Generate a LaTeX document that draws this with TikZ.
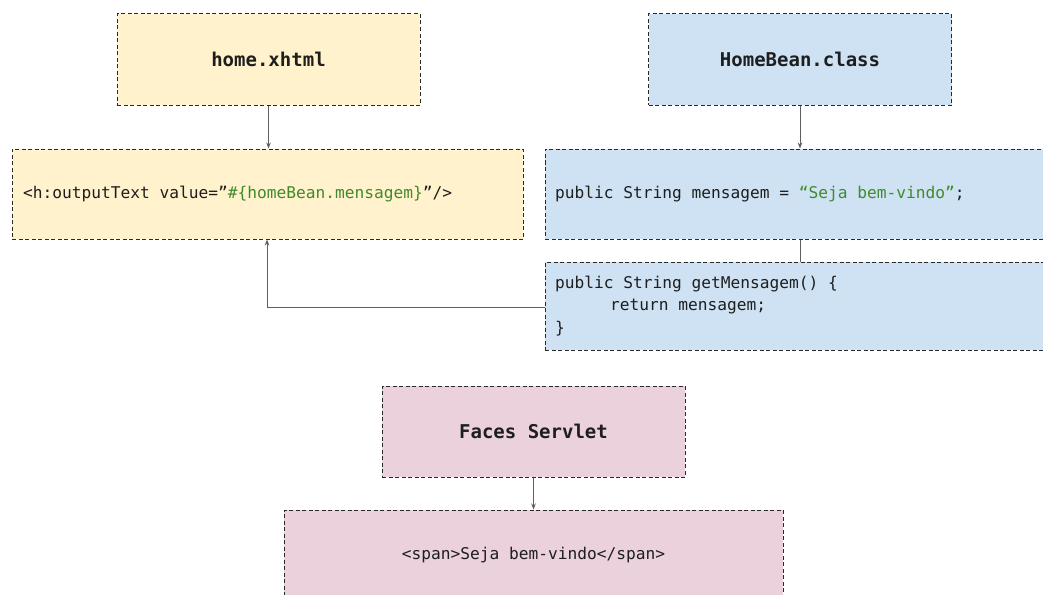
\documentclass[tikz,border=0pt]{standalone}
\usepackage{fontspec}
\newfontfamily\codefont{DejaVu Sans Mono}
\newcommand\monosp{\spaceskip=0.602em\relax\xspaceskip=0.602em\relax}
\usetikzlibrary{arrows.meta}
\definecolor{yel}{HTML}{FFF2CC}
\definecolor{blu}{HTML}{CFE2F3}
\definecolor{pnk}{HTML}{EAD1DC}
\definecolor{grn}{HTML}{3F8A2C}
\definecolor{txt}{HTML}{1E1E1E}
\definecolor{edge}{HTML}{2A2A2A}
\definecolor{conn}{HTML}{5F5F5F}
\begin{document}
\begin{tikzpicture}[x=1pt,y=-1pt,
  box/.style={draw=edge, line width=1pt, dash pattern=on 4pt off 2.5pt, rectangle, inner ysep=0pt, text=txt},
  title/.style={box, minimum width=303pt, minimum height=91pt, font=\codefont\bfseries\fontsize{19}{22}\selectfont\monosp},
  codebox/.style={box, align=left, font=\codefont\fontsize{16.2}{22.5}\selectfont\monosp},
  conn/.style={draw=conn, line width=0.9pt},
  arr/.style={conn, -{Stealth[length=6pt,width=4.5pt]}}]
\useasboundingbox (0,0) rectangle (1043,594);
\fill[white] (0,0) rectangle (1043,594);

\node[title, fill=yel] (home) at (268.5,59.5) {home.xhtml};
\node[title, fill=blu] (bean) at (800,59.5) {HomeBean.class};
\node[codebox, fill=yel, inner xsep=11pt, text width=489pt, minimum height=90pt] (out) at (267.5,194)
  {\monosp<h:outputText value=”\textcolor{grn}{\#\{homeBean.mensagem\}}”/>};
\node[codebox, fill=blu, inner xsep=10pt, text width=485pt, minimum height=90pt] (b1) at (797.5,194)
  {\monosp public String mensagem = \textcolor{grn}{“Seja bem-vindo”};};
\node[codebox, fill=blu, inner xsep=10pt, text width=485pt, minimum height=88pt] (b2) at (797.5,306)
  {\monosp public String getMensagem() \{\\\hspace*{55pt}return mensagem;\\\}};
\node[title, fill=pnk] (faces) at (533.5,431.5) {Faces Servlet};
\node[codebox, fill=pnk, align=center, minimum width=499pt, minimum height=90pt, inner xsep=0pt] (span) at (533.5,555)
  {\monosp<span>Seja bem-vindo</span>};

\draw[arr] (home.south) -- (out.north -| home.south);
\draw[arr] (bean.south) -- (b1.north -| bean.south);
\draw[conn] (b1.south -| bean.south) -- (b2.north -| bean.south);
\coordinate (turn) at (267,307);
\draw[arr] (b2.west |- turn) -- (turn) -- (out.south -| turn);
\draw[arr] (faces.south) -- (span.north -| faces.south);
\end{tikzpicture}
\end{document}
